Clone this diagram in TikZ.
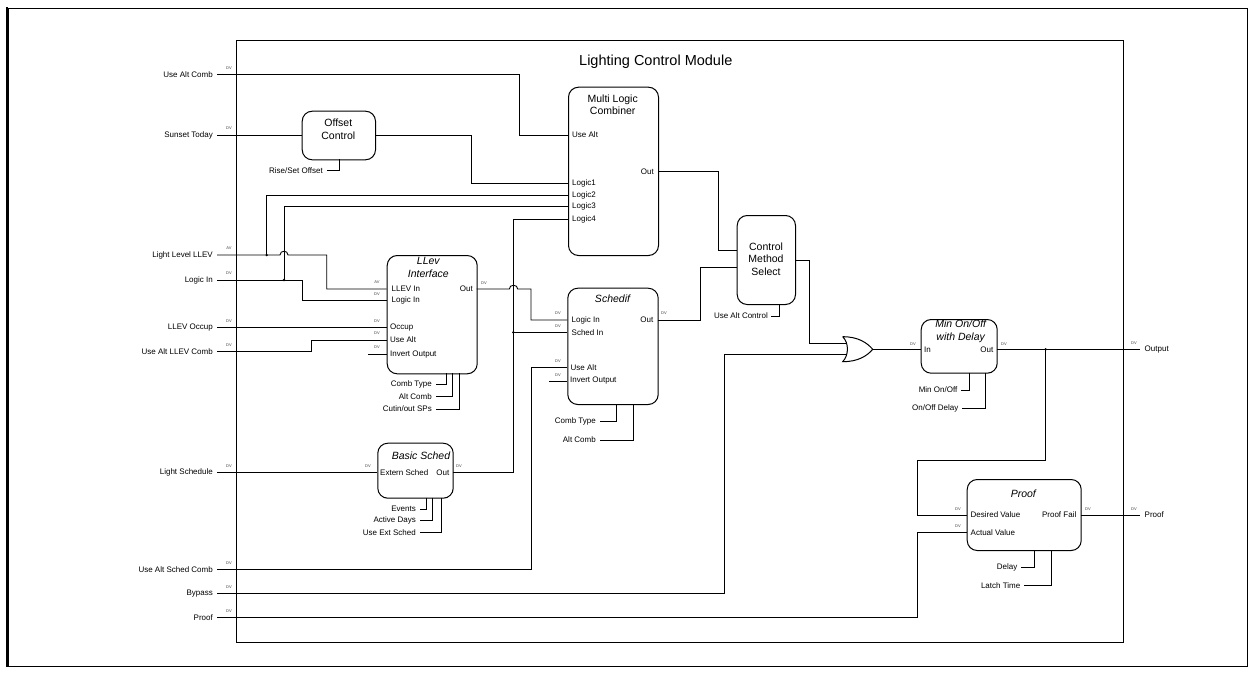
\documentclass[tikz,border=0pt]{standalone}
\usepackage{fontspec}
\setmainfont{Liberation Sans}
\begin{document}
\begin{tikzpicture}[x=1pt,y=-1pt,
  wire/.style={line width=0.9pt},
  lbl/.style={font=\fontsize{8}{9}\selectfont, inner sep=0pt},
  ttl/.style={font=\fontsize{10.5}{12.5}\selectfont, align=center, inner sep=0pt},
  ittl/.style={font=\fontsize{10.5}{12.5}\selectfont\itshape, align=center, inner sep=0pt},
  dv/.style={font=\fontsize{4}{4}\selectfont, text=black!75, inner sep=0pt},
  box/.style={draw, rounded corners=10pt, line width=1pt, anchor=north west, inner sep=0pt},
  dot/.style={fill, circle, inner sep=0pt, minimum size=2.6pt}]
\useasboundingbox (0,0) rectangle (1255,675);
% outer frame
\draw[line width=1pt] (8,8) rectangle (1247,666);
\draw[line width=2.5pt] (7,7) -- (7,667);
% module
\node[draw, line width=1pt, minimum width=887.6pt, minimum height=602pt, anchor=north west, inner sep=0pt] (module) at (235.7,40) {};
\node[font=\fontsize{14.5}{16}\selectfont, anchor=west, inner sep=0pt] (title) at (579,62) {Lighting Control Module};

% ---------- left inputs ----------
\node[lbl, anchor=east] (in1) at (213,74.7) {Use Alt Comb};
\node[lbl, anchor=east] (in2) at (213,135) {Sunset Today};
\node[lbl, anchor=east] (in3) at (213,255) {Light Level LLEV};
\node[lbl, anchor=east] (in4) at (213,280) {Logic In};
\node[lbl, anchor=east] (in5) at (213,327.7) {LLEV Occup};
\node[lbl, anchor=east] (in6) at (213,351.7) {Use Alt LLEV Comb};
\node[lbl, anchor=east] (in7) at (213,472.3) {Light Schedule};
\node[lbl, anchor=east] (in8) at (213,569.3) {Use Alt Sched Comb};
\node[lbl, anchor=east] (in9) at (213,593.3) {Bypass};
\node[lbl, anchor=east] (in10) at (213,617.7) {Proof};
\coordinate (c1) at (217,74.7);
\coordinate (c2) at (217,135);
\coordinate (c3) at (217,255);
\coordinate (c4) at (217,280);
\coordinate (c5) at (217,327.7);
\coordinate (c6) at (217,351.7);
\coordinate (c7) at (217,472.3);
\coordinate (c8) at (217,569.3);
\coordinate (c9) at (217,593.3);
\coordinate (c10) at (217,617.7);
\node[dv] (dvi1) at (229,68) {DV};
\node[dv] (dvi2) at (229,128.5) {DV};
\node[dv] (dvi3) at (229,248.5) {AV};
\node[dv] (dvi4) at (229,273.5) {DV};
\node[dv] (dvi5) at (229,321) {DV};
\node[dv] (dvi6) at (229,345) {DV};
\node[dv] (dvi7) at (229,466) {DV};
\node[dv] (dvi8) at (229,563) {DV};
\node[dv] (dvi9) at (229,587) {DV};
\node[dv] (dvi10) at (229,611) {DV};

% ---------- Offset Control ----------
\node[box, minimum width=73.3pt, minimum height=48.6pt] (offset) at (301.7,110.7) {};
\node[ttl] (offsetT) at (338.3,129) {Offset\\Control};
\coordinate (offIn) at (301.7,135);
\coordinate (offOut) at (375,135);
\coordinate (offBot) at (339,159.3);
\node[lbl, anchor=east] (riseset) at (323,170.7) {Rise/Set Offset};
\draw[wire] (offBot) |- (326.7,170.7);

% ---------- Multi Logic Combiner ----------
\node[box, minimum width=90pt, minimum height=168.3pt] (mlc) at (568,86.7) {};
\node[ttl] (mlcT) at (612.7,104.5) {Multi Logic\\Combiner};
\node[lbl, anchor=west] (mlcL0) at (572,135) {Use Alt};
\node[lbl, anchor=west] (mlcL1) at (572,183.3) {Logic1};
\node[lbl, anchor=west] (mlcL2) at (572,195) {Logic2};
\node[lbl, anchor=west] (mlcL3) at (572,206.7) {Logic3};
\node[lbl, anchor=west] (mlcL4) at (572,219) {Logic4};
\node[lbl, anchor=east] (mlcLo) at (654,171.7) {Out};
\coordinate (mlcUseAlt) at (568,135);
\coordinate (mlc1) at (568,183.3);
\coordinate (mlc2) at (568,195);
\coordinate (mlc3) at (568,206.7);
\coordinate (mlc4) at (568,219);
\coordinate (mlcOut) at (658,171.7);

% ---------- LLev Interface ----------
\node[box, minimum width=90pt, minimum height=118.3pt] (llev) at (386.7,255) {};
\node[ittl] (llevT) at (428.3,267.5) {LLev\\Interface};
\node[lbl, anchor=west] (llevL1) at (391.5,289) {LLEV In};
\node[lbl, anchor=west] (llevL2) at (391.5,300.3) {Logic In};
\node[lbl, anchor=west] (llevL3) at (390,327.7) {Occup};
\node[lbl, anchor=west] (llevL4) at (390,340) {Use Alt};
\node[lbl, anchor=west] (llevL5) at (390,354.3) {Invert Output};
\node[lbl, anchor=east] (llevLo) at (473,289) {Out};
\coordinate (llevIn1) at (386.7,289);
\coordinate (llevIn2) at (386.7,300.3);
\coordinate (llevIn3) at (386.7,327.7);
\coordinate (llevIn4) at (386.7,340);
\coordinate (llevIn5) at (386.7,354.3);
\coordinate (llevOut) at (476.7,289);
\node[dv] (dvl1) at (377,282.5) {AV};
\node[dv] (dvl2) at (377,294) {DV};
\node[dv] (dvl3) at (377,321) {DV};
\node[dv] (dvl4) at (377,333.5) {DV};
\node[dv] (dvl5) at (377,347.5) {DV};
\node[dv] (dvlo) at (484,283) {DV};
\coordinate (llevInvS) at (368,354.3);
\node[lbl, anchor=east] (llevS1) at (432,384.3) {Comb Type};
\node[lbl, anchor=east] (llevS2) at (432,396.7) {Alt Comb};
\node[lbl, anchor=east] (llevS3) at (432,409) {Cutin/out SPs};
\draw[wire] (446.7,373.3) |- (436,384.3);
\draw[wire] (452.7,373.3) |- (436,396.7);
\draw[wire] (459.3,373.3) |- (436,409);

% ---------- Schedif ----------
\node[box, minimum width=90.4pt, minimum height=116.3pt] (sched) at (567.3,287.7) {};
\node[ittl] (schedT) at (612.5,299) {Schedif};
\node[lbl, anchor=west] (schL1) at (571.5,320) {Logic In};
\node[lbl, anchor=west] (schL2) at (571.5,332.3) {Sched In};
\node[lbl, anchor=west] (schL3) at (570.5,367.7) {Use Alt};
\node[lbl, anchor=west] (schL4) at (570,381) {Invert Output};
\node[lbl, anchor=east] (schLo) at (653.5,320) {Out};
\coordinate (schIn1) at (567.3,320);
\coordinate (schIn2) at (567.3,332.3);
\coordinate (schIn3) at (567.3,367.7);
\coordinate (schIn4) at (567.3,381);
\coordinate (schOut) at (657.7,320);
\node[dv] (dvs1) at (558,313.5) {DV};
\node[dv] (dvs2) at (558,326) {DV};
\node[dv] (dvs3) at (558,361.5) {DV};
\node[dv] (dvs4) at (558,375) {DV};
\node[dv] (dvso) at (664,313.5) {DV};
\coordinate (schInvS) at (549,381);
\node[lbl, anchor=east] (schS1) at (596,421.7) {Comb Type};
\node[lbl, anchor=east] (schS2) at (596,440) {Alt Comb};
\draw[wire] (616.7,404) |- (600,421.7);
\draw[wire] (633.3,404) |- (600,440);

% ---------- Basic Sched ----------
\node[box, minimum width=75.4pt, minimum height=55pt] (basic) at (377.3,442.7) {};
\node[ittl] (basicT) at (421,455.7) {Basic Sched};
\node[lbl, anchor=west] (basL1) at (380,472.3) {Extern Sched};
\node[lbl, anchor=east] (basLo) at (449.5,472.3) {Out};
\coordinate (basIn) at (377.3,472.3);
\coordinate (basOut) at (452.7,472.3);
\node[dv] (dvb1) at (368,466.5) {DV};
\node[dv] (dvbo) at (459,466.5) {DV};
\node[lbl, anchor=east] (basS1) at (416,509) {Events};
\node[lbl, anchor=east] (basS2) at (416,520.7) {Active Days};
\node[lbl, anchor=east] (basS3) at (416,532.3) {Use Ext Sched};
\draw[wire] (426,497.7) |- (420,509);
\draw[wire] (432.3,497.7) |- (420,520.7);
\draw[wire] (441,497.7) |- (420,532.3);

% ---------- Control Method Select ----------
\node[box, minimum width=58.3pt, minimum height=89pt] (cms) at (736.7,215) {};
\node[ttl] (cmsT) at (766,259) {Control\\Method\\Select};
\coordinate (cmsIn1) at (736.7,250);
\coordinate (cmsIn2) at (736.7,267.7);
\coordinate (cmsOut) at (795,260);
\node[lbl, anchor=east] (cmsS1) at (768,316) {Use Alt Control};
\draw[wire] (779.3,304) |- (771,316);

% ---------- OR gate ----------
\coordinate (orA) at (842.7,336.7);
\coordinate (orB) at (842.7,361.7);
\coordinate (orOut) at (872.7,349.3);
\draw[line width=1pt] (orA) .. controls (849,343) and (849,355) .. (orB)
  .. controls (858,361.7) and (867,356) .. (orOut)
  .. controls (867,342.6) and (858,336.7) .. (orA);
\coordinate (orIn1) at (846.5,343.3);
\coordinate (orIn2) at (846.5,354.3);

% ---------- Min On/Off ----------
\node[box, minimum width=76pt, minimum height=53.7pt] (minb) at (920.7,319) {};
\node[ittl] (minT) at (960.7,331.5) {Min On/Off\\with Delay};
\node[lbl, anchor=west] (minL1) at (924,349.3) {In};
\node[lbl, anchor=east] (minLo) at (993.5,349.3) {Out};
\coordinate (minIn) at (920.7,349.3);
\coordinate (minOut) at (996.7,349.3);
\node[dv] (dvm1) at (913,344) {DV};
\node[dv] (dvmo) at (1004,344) {DV};
\node[lbl, anchor=east] (minS1) at (957.5,390) {Min On/Off};
\node[lbl, anchor=east] (minS2) at (958.5,408.3) {On/Off Delay};
\draw[wire] (969,372.7) |- (961,390);
\draw[wire] (985.7,372.7) |- (962,408.3);

% ---------- Proof ----------
\node[box, minimum width=114pt, minimum height=71pt] (proof) at (966.7,479) {};
\node[ittl] (proofT) at (1023.3,494) {Proof};
\node[lbl, anchor=west] (prL1) at (970.5,515) {Desired Value};
\node[lbl, anchor=west] (prL2) at (970.5,532.5) {Actual Value};
\node[lbl, anchor=east] (prLo) at (1076.5,515) {Proof Fail};
\coordinate (prIn1) at (966.7,515);
\coordinate (prIn2) at (966.7,532.5);
\coordinate (prOut) at (1080.7,515);
\node[dv] (dvp1) at (958,509) {DV};
\node[dv] (dvp2) at (958,526) {DV};
\node[dv] (dvpo) at (1088,509) {DV};
\node[lbl, anchor=east] (prS1) at (1017.5,567.7) {Delay};
\node[lbl, anchor=east] (prS2) at (1020.5,585.7) {Latch Time};
\draw[wire] (1034,550) |- (1021,567.7);
\draw[wire] (1051,550) |- (1024,585.7);

% ---------- outputs ----------
\node[lbl, anchor=west] (outO) at (1144.5,349.3) {Output};
\node[lbl, anchor=west] (outP) at (1144.5,515) {Proof};
\coordinate (oO) at (1139.5,349.3);
\coordinate (oP) at (1139.5,515);
\node[dv] (dvoO) at (1134,343) {DV};
\node[dv] (dvoP) at (1134,509) {DV};

% ---------- connectors ----------
\draw[wire] (c1) -- (519,74.7) |- (mlcUseAlt);
\draw[wire] (c2) -- (offIn);
\draw[wire] (offOut) -- (471,135) |- (mlc1);
% Light level with hop over Logic3 vertical
\draw[wire] (c3) -- (280,255) .. controls (280,250) and (288,250) .. (288,255) -- (326.7,255) |- (llevIn1);
\draw[wire] (c4) -- (302.3,280) |- (llevIn2);
\node[dot] (j1) at (266.7,255) {};
\node[dot] (j2) at (284,280) {};
\draw[wire] (j1.center) |- (mlc2);
\draw[wire] (j2.center) |- (mlc3);
\draw[wire] (c5) -- (llevIn3);
\draw[wire] (c6) -- (311.7,351.7) |- (llevIn4);
\draw[wire] (llevInvS) -- (llevIn5);
% LLev out with hop over Logic4 vertical
\draw[wire] (llevOut) -- (509.3,289) .. controls (509.3,284) and (517.7,284) .. (517.7,289) -- (531,289) |- (schIn1);
\draw[wire] (basOut) -- (513.3,472.3) |- (mlc4);
\node[dot] (j3) at (513.3,332.3) {};
\draw[wire] (j3.center) -- (schIn2);
\draw[wire] (c8) -- (531.7,569.3) |- (schIn3);
\draw[wire] (schInvS) -- (schIn4);
\draw[wire] (c7) -- (basIn);
\draw[wire] (mlcOut) -- (718.3,171.7) |- (cmsIn1);
\draw[wire] (schOut) -- (700,320) |- (cmsIn2);
\draw[wire] (cmsOut) -- (809.3,260) |- (orIn1);
\draw[wire] (c9) -- (724.3,593.3) |- (orIn2);
\draw[wire] (orOut) -- (minIn);
\draw[wire] (minOut) -- (oO);
\node[dot] (j4) at (1045.7,349.3) {};
\draw[wire] (j4.center) -- (1045.7,460.7) -| (917.3,515) -- (prIn1);
\draw[wire] (c10) -- (917.7,617.7) |- (prIn2);
\draw[wire] (prOut) -- (oP);
\end{tikzpicture}
\end{document}
